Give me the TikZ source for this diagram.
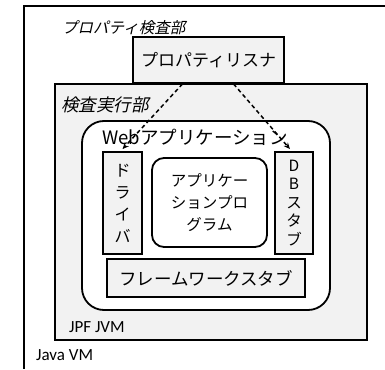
\documentclass[tikz,border=0pt]{standalone}
\usepackage{fontspec}
\setmainfont{Carlito}
\newfontfamily\jp{Noto Sans CJK JP}
\newfontfamily\jpit[FakeSlant=0.22]{Noto Sans CJK JP}
\usetikzlibrary{arrows.meta,calc}
\definecolor{boxgray}{HTML}{F2F2F2}
\tikzset{
  grayfill/.style={draw=black, line width=1.8pt, fill=boxgray, inner sep=0pt},
  whitebox/.style={draw=black, line width=1.8pt, fill=white, inner sep=0pt},
  dasharrow/.style={line width=1.5pt, dash pattern=on 4pt off 3pt, -{Stealth[length=6.5pt,width=5.5pt]}},
  lbl/.style={inner sep=0pt, anchor=west},
}
\begin{document}
\begin{tikzpicture}[x=1pt,y=-1pt]
\useasboundingbox (0,0) rectangle (385,369);
% Java VM outer frame
\draw[line width=1.8pt] (385,6) -- (24,6) -- (24,369);
\node[lbl, font=\fontsize{17}{20}\selectfont] (javavm) at (36,355) {Java VM};
\node[lbl, font=\jpit\fontsize{15.5}{18}\selectfont] (propcheck) at (62,28) {プロパティ検査部};
% listener
\node[grayfill, minimum width=151pt, minimum height=46pt, font=\jp\fontsize{17}{20}\selectfont] (listener) at (208.5,60) {プロパティリスナ};
% JPF JVM
\node[grayfill, minimum width=312pt, minimum height=256pt] (jpf) at (211,212) {};
\node[lbl, font=\jpit\fontsize{17.5}{20}\selectfont] (exec) at (61,105) {検査実行部};
\node[lbl, font=\fontsize{17}{20}\selectfont] (jpflbl) at (69,327) {JPF JVM};
% Web application
\node[whitebox, rounded corners=22pt, minimum width=248pt, minimum height=189pt] (web) at (206,215.5) {};
\node[lbl, font=\jp\fontsize{18.5}{20}\selectfont] (weblbl) at (102,137) {Webアプリケーション};
% driver
\node[grayfill, minimum width=39pt, minimum height=102pt, align=center, font=\jp\fontsize{16}{22}\selectfont] (driver) at (122.5,203) {ド\\ラ\\イ\\バ};
% DB stub
\node[grayfill, minimum width=38pt, minimum height=102pt, align=center, font=\jp\fontsize{15.5}{18.5}\selectfont] (db) at (294,203) {D\\B\\ス\\タ\\ブ};
% application program
\node[whitebox, rounded corners=12pt, minimum width=115pt, minimum height=89pt, align=center, font=\jp\fontsize{15.5}{22}\selectfont] (app) at (209.5,202.5) {アプリケー\\ションプロ\\グラム};
% framework stub
\node[grayfill, minimum width=198pt, minimum height=38pt, font=\jp\fontsize{17.5}{20}\selectfont] (fw) at (206,278) {フレームワークスタブ};
% arrows
\coordinate (s1) at ($(listener.south)+(-26,0)$);
\coordinate (s2) at ($(listener.south)+(25,0)$);
\draw[dasharrow] (s1) -- ($(driver.north)+(0,-2)$);
\draw[dasharrow] (s2) -- ($(db.north)+(-4,-2)$);
\end{tikzpicture}
\end{document}
